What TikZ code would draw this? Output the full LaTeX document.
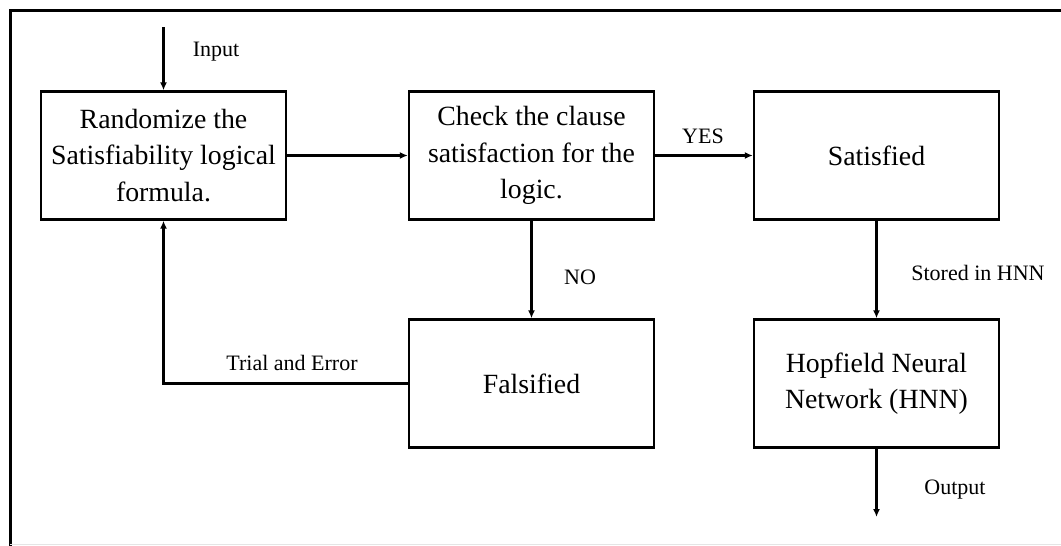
\documentclass[tikz,border=0pt]{standalone}
\usepackage{fontspec}
\setmainfont{Liberation Serif}
\usetikzlibrary{arrows.meta}
\begin{document}
\begin{tikzpicture}[x=1pt,y=-1pt,
  box/.style={draw, line width=2.4pt, minimum width=245pt, minimum height=128pt, inner sep=0pt, align=center, font=\fontsize{27.8}{36.5}\selectfont},
  lbl/.style={font=\fontsize{22}{26}\selectfont, inner sep=0pt},
  conn/.style={line width=2.1pt, -{Latex[length=8pt,width=7pt]}},
  frame/.style={line width=3pt}]
\useasboundingbox (0,0) rectangle (1061,546);
\draw[frame] (1061,10) -- (10,10) -- (10,546);
\draw[line width=1pt, black!10] (10,544.5) -- (1061,544.5);

\node[box] (rand) at (163.5,155.5) {Randomize the\\Satisfiability logical\\formula.};
\node[box] (check) at (531.5,155.5) {Check the clause\\satisfaction for the\\logic.};
\node[box] (sat) at (876.5,155.5) {Satisfied};
\node[box] (fal) at (531.5,383.5) {Falsified};
\node[box] (hnn) at (876.5,383.5) {Hopfield Neural\\Network (HNN)};

\coordinate (inp) at (163.5,27);
\coordinate (outp) at (876.5,517);

\draw[conn] (inp) -- (rand.north);
\draw[conn] (rand.east) -- (check.west);
\draw[conn] (check.east) -- (sat.west);
\draw[conn] (check.south) -- (fal.north);
\draw[conn] (sat.south) -- (hnn.north);
\draw[conn] (hnn.south) -- (outp);
\draw[conn] (fal.west) -| (rand.south);

\node[lbl] (linp) at (216,52) {Input};
\node[lbl] (lyes) at (703,136) {YES};
\node[lbl] (lno) at (580,277) {NO};
\node[lbl] (lsto) at (978,273) {Stored in HNN};
\node[lbl] (lout) at (955,490) {Output};
\node[lbl] (ltri) at (292,363) {Trial and Error};
\end{tikzpicture}
\end{document}
